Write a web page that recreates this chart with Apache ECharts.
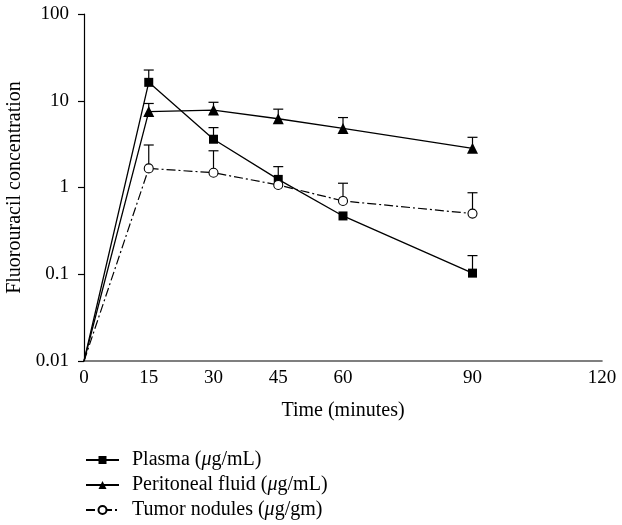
<!DOCTYPE html>
<html>
<head>
<meta charset="utf-8">
<title>Fluorouracil concentration</title>
<script src="https://cdn.jsdelivr.net/npm/echarts@6/dist/echarts.min.js"></script>
<style>
  html, body { margin: 0; padding: 0; background: #fff; }
  #chart { width: 622px; height: 525px; }
</style>
</head>
<body>
<div id="chart"></div>
<script>
// time points (minutes)
const times = [0, 15, 30, 45, 60, 90]
const xTickLabels = [0, 15, 30, 45, 60, 90, 120]
const yTickLabels = ['0.01', '0.1', '1', '10', '100']

// mean concentrations
const plasma = [0.01, 16.3, 3.6, 1.24, 0.47, 0.103]
const peritoneal = [0.01, 7.5, 7.8, 6.2, 4.8, 2.83]
const tumor = [0.01, 1.66, 1.48, 1.07, 0.70, 0.50]

// upper ends of the error bars (null = no bar visible)
const plasmaErr = [null, 22.6, 4.9, 1.74, null, 0.164]
const peritonealErr = [null, 9.3, 9.6, 8.0, 6.4, 3.79]
const tumorErr = [null, 3.09, 2.65, null, 1.12, 0.87]

const serif = 'Liberation Serif'

function points (values) {
  return values.map((v, i) => {
    const item = { value: [times[i], v] }
    if (i === 0) item.symbol = 'none'
    return item
  })
}

function errorData (values, tops) {
  const out = []
  tops.forEach((t, i) => {
    if (t !== null) out.push([times[i], values[i], t])
  })
  return out
}

function errorSeries (values, tops) {
  return {
    type: 'custom',
    z: 1,
    silent: true,
    encode: { x: 0, y: 2 },
    data: errorData(values, tops),
    renderItem (params, api) {
      const base = api.coord([api.value(0), api.value(1)])
      const top = api.coord([api.value(0), api.value(2)])
      const style = { stroke: '#000', lineWidth: 1.2 }
      return {
        type: 'group',
        children: [
          { type: 'line', shape: { x1: base[0], y1: base[1], x2: top[0], y2: top[1] }, style },
          { type: 'line', shape: { x1: top[0] - 5, y1: top[1], x2: top[0] + 5, y2: top[1] }, style }
        ]
      }
    }
  }
}

const chart = echarts.init(document.getElementById('chart'))

chart.setOption({
  animation: false,
  textStyle: { fontFamily: serif },
  grid: { left: 84, right: 20, top: 14, bottom: 164, outerBoundsMode: 'none' },
  legend: {
    orient: 'vertical',
    left: 85,
    top: 450,
    padding: 0,
    itemWidth: 33,
    itemHeight: 10,
    itemGap: 5,
    selectedMode: false,
    textStyle: {
      fontFamily: serif,
      fontSize: 20,
      color: '#000',
      padding: [0, 0, 0, 8],
      rich: {
        n: { fontFamily: serif, fontSize: 20, color: '#000' },
        i: { fontFamily: serif, fontSize: 20, color: '#000', fontStyle: 'italic' }
      }
    },
    formatter (name) {
      const m = name.match(/^(.*\()μ(.*)$/)
      return m ? '{n|' + m[1] + '}{i|μ}{n|' + m[2] + '}' : name
    },
    data: ['Plasma (μg/mL)', 'Peritoneal fluid (μg/mL)', 'Tumor nodules (μg/gm)']
  },
  xAxis: {
    type: 'value',
    min: 0,
    max: 120,
    name: 'Time (minutes)',
    nameLocation: 'middle',
    nameGap: 40,
    nameTextStyle: { fontFamily: serif, fontSize: 20, color: '#000' },
    axisLine: { lineStyle: { color: '#555', width: 1.6 } },
    axisTick: { show: false },
    splitLine: { show: false },
    axisLabel: {
      customValues: xTickLabels,
      fontFamily: serif,
      fontSize: 19,
      color: '#000',
      margin: 8
    }
  },
  yAxis: {
    type: 'log',
    logBase: 10,
    min: 0.01,
    max: 100,
    name: 'Fluorouracil concentration',
    nameLocation: 'middle',
    nameGap: 46,
    nameTextStyle: { fontFamily: serif, fontSize: 20, color: '#000' },
    axisLine: { show: true, lineStyle: { color: '#000', width: 1.2 } },
    axisTick: { show: true, length: 6, lineStyle: { color: '#000', width: 1.2 } },
    splitLine: { show: false },
    axisLabel: {
      fontFamily: serif,
      fontSize: 19,
      color: '#000',
      margin: 15,
      formatter (v) {
        const s = String(+v.toPrecision(3))
        return yTickLabels.indexOf(s) >= 0 ? s : ''
      }
    }
  },
  series: [
    {
      name: 'Plasma (μg/mL)',
      type: 'line',
      z: 3,
      symbol: 'rect',
      symbolSize: 9,
      itemStyle: { color: '#000' },
      lineStyle: { color: '#000', width: 1.3 },
      data: points(plasma)
    },
    {
      name: 'Peritoneal fluid (μg/mL)',
      type: 'line',
      z: 3,
      symbol: 'triangle',
      symbolSize: 11,
      itemStyle: { color: '#000' },
      lineStyle: { color: '#000', width: 1.3 },
      data: points(peritoneal)
    },
    {
      name: 'Tumor nodules (μg/gm)',
      type: 'line',
      z: 3,
      symbol: 'circle',
      symbolSize: 9,
      itemStyle: { color: '#fff', borderColor: '#000', borderWidth: 1.1 },
      lineStyle: { color: '#000', width: 1.2, type: [9, 3, 2, 3] },
      data: points(tumor)
    },
    errorSeries(plasma, plasmaErr),
    errorSeries(peritoneal, peritonealErr),
    errorSeries(tumor, tumorErr)
  ]
})
</script>
</body>
</html>
